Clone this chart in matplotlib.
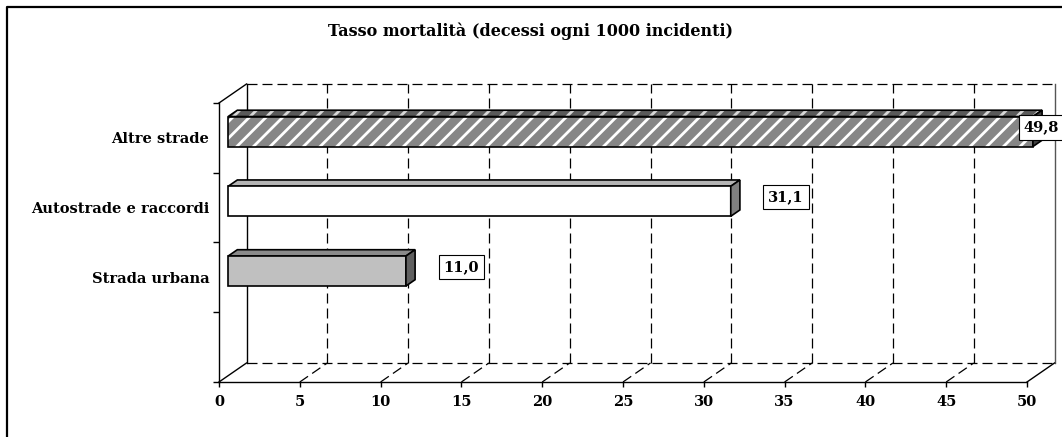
import numpy as np
import matplotlib
matplotlib.use('Agg')
import matplotlib.pyplot as plt
from matplotlib.patches import Rectangle, Polygon
from matplotlib.lines import Line2D

# data
categories = ['Strada urbana', 'Autostrade e raccordi', 'Altre strade']
values = [11.0, 31.1, 49.8]
value_labels = ['11,0', '31,1', '49,8']
x_ticks = list(range(0, 51, 5))
title = 'Tasso mortalità (decessi ogni 1000 incidenti)'

plt.rcParams['font.family'] = ['DejaVu Serif']
plt.rcParams['font.weight'] = 'bold'
plt.rcParams['hatch.linewidth'] = 2.0

W, H = 1062, 437
fig = plt.figure(figsize=(W / 100, H / 100), dpi=100)
fig.patch.set_facecolor('white')

# front plane of the 3d box
ax = fig.add_axes([219 / W, (H - 382) / H, (1027 - 219) / W, (382 - 103) / H])
ax.set_xlim(0, 50)
ax.set_ylim(0, 4)
ax.set_facecolor('none')

# depth of the box in data units
px_x = (1027 - 219) / 50
px_y = (382 - 103) / 4
DX = 27.5 / px_x
DY = 19 / px_y

dash = dict(color='black', lw=0.9, ls=(0, (8, 4)), zorder=1, clip_on=False)
solid = dict(color='black', lw=1.0, zorder=1, clip_on=False)

# back wall and floor
ax.plot([DX, 50 + DX], [4 + DY, 4 + DY], **dash)
ax.plot([DX, 50 + DX], [DY, DY], **dash)
ax.plot([DX, DX], [DY, 4 + DY], **solid)
ax.plot([50 + DX, 50 + DX], [DY, 4 + DY], color='#555555', lw=1.0, zorder=1, clip_on=False)
ax.plot([0, DX], [4, 4 + DY], **solid)
ax.plot([0, DX], [0, DY], **solid)
ax.plot([50, 50 + DX], [0, DY], **solid)
for t in x_ticks[1:-1]:
    ax.plot([t + DX, t + DX], [DY, 4 + DY], **dash)
    ax.plot([t, t + DX], [0, DY], **dash)

# bars, drawn at the middle third of the depth
pos = np.arange(len(categories)) + 1.5
bh = 0.43
fx, fy = DX / 3, DY / 3
front_cols = ['#c0c0c0', 'white', '#868686']
top_cols = ['#8a8a8a', '#b4b4b4', '#5a5a5a']
side_cols = ['#606060', '#808080', '#404040']
hatches = [None, None, '//']

for i, (c, v) in enumerate(zip(pos, values)):
    x0, y0 = fx, c - bh / 2 + fy
    top = [(x0, y0 + bh), (x0 + v, y0 + bh), (x0 + v + fx, y0 + bh + fy), (x0 + fx, y0 + bh + fy)]
    side = [(x0 + v, y0), (x0 + v, y0 + bh), (x0 + v + fx, y0 + bh + fy), (x0 + v + fx, y0 + fy)]
    if hatches[i]:
        ax.add_patch(Polygon(top, closed=True, facecolor=top_cols[i], edgecolor='#d8d8d8',
                             hatch=hatches[i], lw=0, zorder=3, clip_on=False))
        ax.add_patch(Polygon(top, closed=True, fill=False, edgecolor='black', lw=1.2, zorder=3, clip_on=False))
        ax.add_patch(Rectangle((x0, y0), v, bh, facecolor=front_cols[i], edgecolor='white',
                               hatch=hatches[i], lw=0, zorder=3, clip_on=False))
        ax.add_patch(Rectangle((x0, y0), v, bh, fill=False, edgecolor='black', lw=1.2, zorder=3, clip_on=False))
    else:
        ax.add_patch(Polygon(top, closed=True, facecolor=top_cols[i], edgecolor='black',
                             lw=1.2, zorder=3, clip_on=False))
        ax.add_patch(Rectangle((x0, y0), v, bh, facecolor=front_cols[i], edgecolor='black',
                               lw=1.2, zorder=3, clip_on=False))
    ax.add_patch(Polygon(side, closed=True, facecolor=side_cols[i], edgecolor='black',
                         lw=1.2, zorder=3, clip_on=False))
    ax.text(min(v + 4.0, 50.9), c + 0.15, value_labels[i], ha='center', va='center',
            fontsize=10.5, fontweight='bold', zorder=5,
            bbox=dict(boxstyle='square,pad=0.35', facecolor='white', edgecolor='black', lw=0.8))

# axes lines and ticks
for s in ['top', 'right']:
    ax.spines[s].set_visible(False)
for s in ['left', 'bottom']:
    ax.spines[s].set_linewidth(1.0)
    ax.spines[s].set_zorder(2)
ax.set_xticks(x_ticks)
ax.set_xticklabels([str(t) for t in x_ticks], fontsize=10.5, fontweight='bold')
ax.tick_params(axis='x', direction='out', length=3.5, width=1, pad=6)
ax.set_yticks(range(5))
ax.set_yticklabels([])
ax.tick_params(axis='y', which='major', direction='out', length=4, width=1)
ax.set_yticks(pos, minor=True)
ax.set_yticklabels(categories, minor=True, fontsize=10.5, fontweight='bold')
ax.tick_params(axis='y', which='minor', length=0, pad=7)

fig.text(530 / W, (H - 31) / H, title, ha='center', va='center', fontsize=11.5, fontweight='bold')

# outer chart frame (cut at right and bottom)
fig.add_artist(Line2D([7 / W, 7 / W, 1.0], [0.0, 1 - 7 / H, 1 - 7 / H],
                      transform=fig.transFigure, color='black', lw=1.6))

fig.savefig('out.png', dpi=100)
